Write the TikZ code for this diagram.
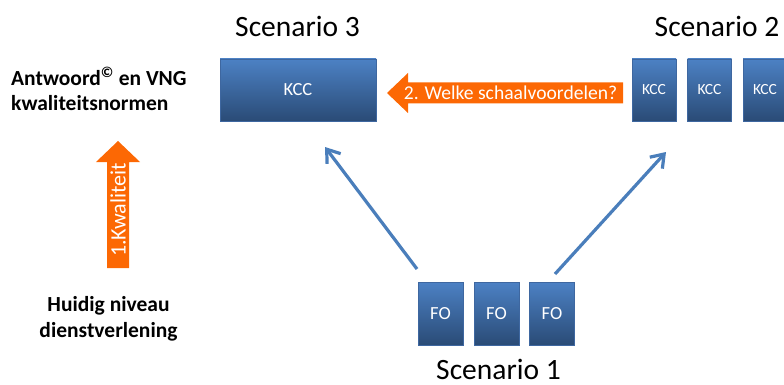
\documentclass[tikz,border=0pt]{standalone}
\usepackage{fontspec}
\setmainfont{Carlito}
\usetikzlibrary{arrows.meta}

\definecolor{boxtop}{RGB}{76,129,196}
\definecolor{boxbot}{RGB}{42,75,118}
\definecolor{boxline}{RGB}{62,103,160}
\definecolor{qorange}{RGB}{252,104,4}
\definecolor{linkblue}{RGB}{74,126,187}

\begin{document}
\begin{tikzpicture}[x=1pt,y=-1pt,
  unit/.style={draw=boxline, line width=0.8pt, top color=boxtop,
    bottom color=boxbot, text=white, inner sep=0pt, minimum height=62pt},
  bigunit/.style={unit, minimum width=156pt, font=\fontsize{18.5}{22}\selectfont},
  kccunit/.style={unit, minimum width=44pt, font=\fontsize{15.5}{19}\selectfont},
  founit/.style={unit, minimum width=45pt, minimum height=63pt, font=\fontsize{18.5}{22}\selectfont},
  title/.style={anchor=base, inner sep=0pt, font=\fontsize{29.5}{35}\selectfont},
  side/.style={inner sep=0pt, font=\bfseries\fontsize{21.5}{25.5}\selectfont},
  qtext/.style={inner sep=0pt, text=white},
  link/.style={draw=linkblue, line width=3.2pt,
    -{Straight Barb[length=12pt,width=17pt,line width=3.2pt]}}
]
\useasboundingbox (0,0) rectangle (784,385);

% scenario titles
\node[title] (t3) at (297.5,37) {Scenario 3};
\node[title] (t2) at (717,37) {Scenario 2};
\node[title] (t1) at (498.5,379.5) {Scenario 1};

% scenario 3: one central contact centre
\node[bigunit] (kcc) at (298,90) {KCC};

% scenario 2: several contact centres
\node[kccunit] (k1) at (654,90) {KCC};
\node[kccunit] (k2) at (709.5,90) {KCC};
\node[kccunit] (k3) at (765,90) {KCC};

% scenario 1: front offices
\node[founit] (f1) at (440.5,313.5) {FO};
\node[founit] (f2) at (496.5,313.5) {FO};
\node[founit] (f3) at (552,313.5) {FO};

% question 2: arrow pointing left towards scenario 3
\fill[qorange] (387,93) -- (408,73) -- (408,82.5) -- (623,82.5)
  -- (623,103.5) -- (408,103.5) -- (408,113) -- cycle;
\node[qtext, anchor=base, font=\fontsize{19.6}{23}\selectfont] (q2)
  at (510.5,99.3) {2. Welke schaalvoordelen?};

% question 1: arrow pointing up
\fill[qorange] (118,141) -- (140,162) -- (129,162) -- (129,268)
  -- (107,268) -- (107,162) -- (96,162) -- cycle;
\node[qtext, rotate=90, font=\fontsize{22}{26}\selectfont] (q1)
  at (118,210) {1.Kwaliteit};

% side labels (anchored on the baseline of their last line)
\node[side, anchor=base west, align=left] (top) at (11,111)
  {Antwoord\textsuperscript{©} en VNG\\kwaliteitsnormen};
\node[side, anchor=base, align=center] (bottom) at (108.5,337)
  {Huidig niveau\\dienstverlening};

% growth paths from scenario 1
\coordinate (s1a) at (417,269);
\coordinate (e3) at (325,147);
\coordinate (s1b) at (555,274);
\coordinate (e2) at (666,152);
\draw[link] (s1a) -- (e3);
\draw[link] (s1b) -- (e2);
\end{tikzpicture}
\end{document}
